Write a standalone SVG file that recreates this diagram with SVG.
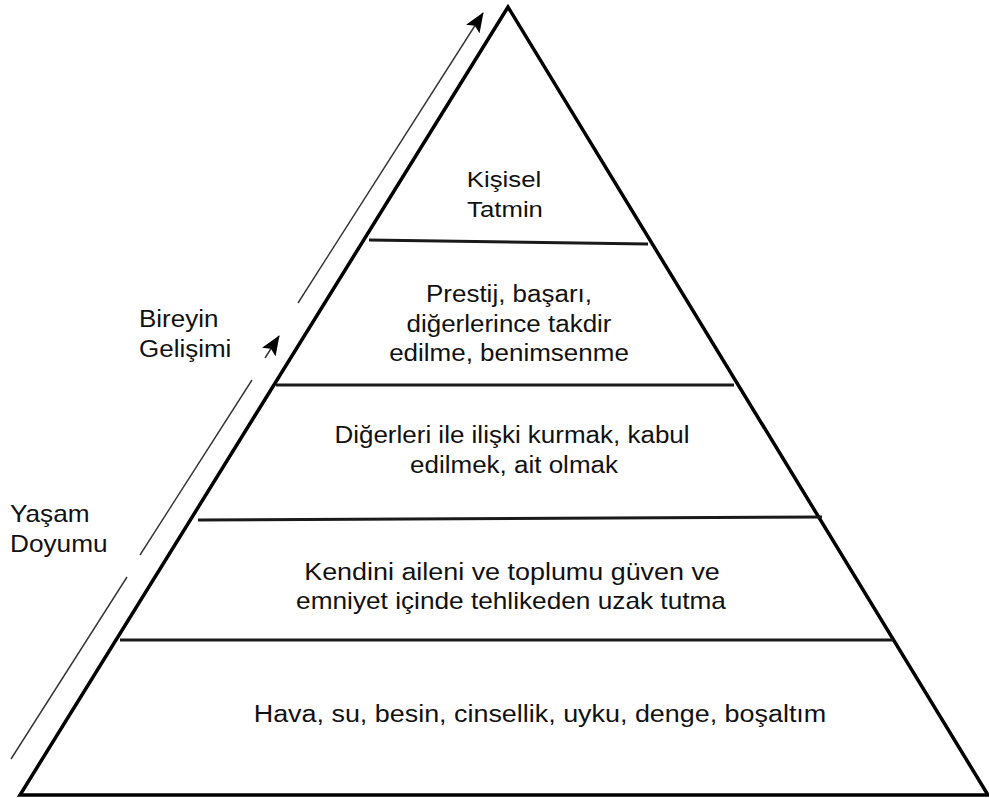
<svg xmlns="http://www.w3.org/2000/svg" width="989" height="798" viewBox="0 0 989 798">
  <defs>
    <style>
      .lbl { font-family: "Liberation Sans", Arial, sans-serif; font-size: 23px; fill: #111; }
      .mid { text-anchor: middle; }
      .edge { fill: none; stroke: #000; stroke-width: 3.5; stroke-linejoin: miter; }
      .tier { stroke: #1a1a1a; stroke-width: 3; fill: none; }
      .guide { stroke: #333; stroke-width: 1.4; fill: none; }
    </style>
    <marker id="head" viewBox="0 0 20 16" refX="19" refY="8" markerWidth="20" markerHeight="16" markerUnits="userSpaceOnUse" orient="auto">
      <path d="M0,0 L20,8 L0,16 L4,8 Z" fill="#000"/>
    </marker>
  </defs>
  <rect width="989" height="798" fill="#fff"/>

  <!-- pyramid outline and tier dividers -->
  <g id="pyramid">
    <path class="edge" d="M508,7 L20,795 L988,795 Z"/>
    <line class="tier" x1="369" y1="240" x2="648" y2="244"/>
    <line class="tier" x1="276" y1="385" x2="734" y2="385"/>
    <line class="tier" x1="198" y1="520" x2="822" y2="517"/>
    <line class="tier" x1="120" y1="640" x2="893" y2="640"/>
  </g>

  <!-- growth arrow running up the left side -->
  <g id="connectors">
    <line class="guide" x1="11" y1="759" x2="127" y2="577"/>
    <line class="guide" x1="140" y1="555" x2="252" y2="380"/>
    <line class="guide" x1="265" y1="358" x2="279" y2="336" marker-end="url(#head)"/>
    <line class="guide" x1="298" y1="303" x2="483" y2="13" marker-end="url(#head)"/>
  </g>

  <!-- labels are set slightly wide: each line is stretched horizontally about its anchor -->
  <g id="tier5">
    <text class="lbl mid" transform="translate(504,187) scale(1.12,1)">Kişisel</text>
    <text class="lbl mid" transform="translate(505,217) scale(1.12,1)">Tatmin</text>
  </g>
  <g id="tier4">
    <text class="lbl mid" transform="translate(509,302) scale(1.13,1)">Prestij, başarı,</text>
    <text class="lbl mid" transform="translate(509,332) scale(1.13,1)">diğerlerince takdir</text>
    <text class="lbl mid" transform="translate(509,361) scale(1.13,1)">edilme, benimsenme</text>
  </g>
  <g id="tier3">
    <text class="lbl mid" transform="translate(512,443) scale(1.13,1)">Diğerleri ile ilişki kurmak, kabul</text>
    <text class="lbl mid" transform="translate(514,473) scale(1.13,1)">edilmek, ait olmak</text>
  </g>
  <g id="tier2">
    <text class="lbl mid" transform="translate(512,580) scale(1.17,1)">Kendini aileni ve toplumu güven ve</text>
    <text class="lbl mid" transform="translate(511,609) scale(1.14,1)">emniyet içinde tehlikeden uzak tutma</text>
  </g>
  <g id="tier1">
    <text class="lbl mid" transform="translate(540,722) scale(1.17,1)">Hava, su, besin, cinsellik, uyku, denge, boşaltım</text>
  </g>

  <g id="label-growth">
    <text class="lbl" transform="translate(139,327) scale(1.13,1)">Bireyin</text>
    <text class="lbl" transform="translate(139,357) scale(1.13,1)">Gelişimi</text>
  </g>
  <g id="label-satisfaction">
    <text class="lbl" transform="translate(10,522) scale(1.14,1)">Yaşam</text>
    <text class="lbl" transform="translate(10,552) scale(1.14,1)">Doyumu</text>
  </g>
</svg>
